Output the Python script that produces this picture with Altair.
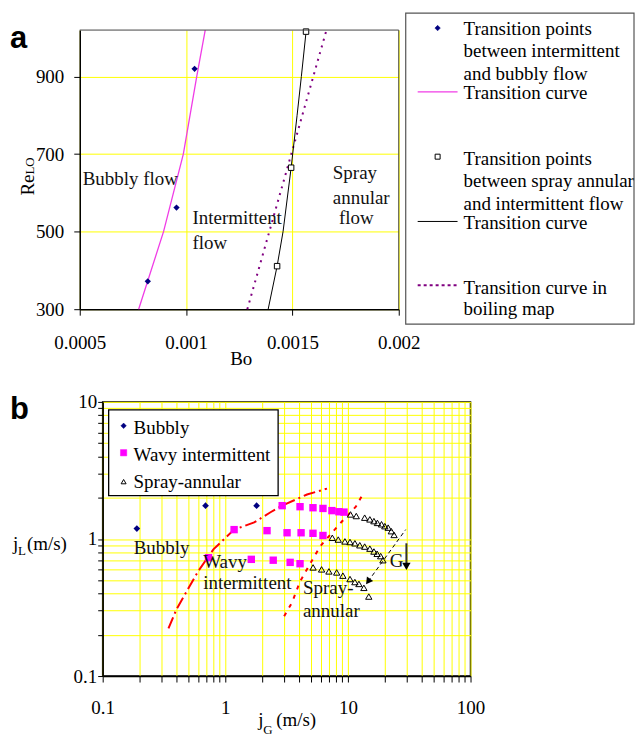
import altair as alt
import pandas as pd

SERIF = "Liberation Serif"
SANS = "Liberation Sans"
GRID = "#FFFF00"

# ---------------- Panel a data ----------------
a_bub_pts_bo = [0.00082, 0.000955, 0.00104]
a_bub_pts_re = [372, 562, 920]
a_bub_curve_bo = [0.000777, 0.000894, 0.000987, 0.00105, 0.00109]
a_bub_curve_re = [300, 500, 700, 900, 1020]
a_spr_pts_bo = [0.001428, 0.001494, 0.001564]
a_spr_pts_re = [411, 665, 1016]
a_spr_curve_bo = [0.001386, 0.001428, 0.001456, 0.001494, 0.001522, 0.001542, 0.001565]
a_spr_curve_re = [300, 411, 500, 665, 800, 900, 1020]
a_boil_curve_bo = [0.001288, 0.001658]
a_boil_curve_re = [300, 1016]
a_labels = ["Bubbly flow", "Intermittent", "flow", "Spray", "annular", "flow"]
a_labels_bo = [0.000514, 0.00103, 0.00103, 0.00169, 0.00169, 0.001719]
a_labels_re = [635, 534, 470, 650, 586, 534]
a_xticks = [0.0005, 0.001, 0.0015, 0.002]
a_yticks = [300, 500, 700, 900]
a_legend = [
    ["Transition points", "between intermittent", "and bubbly flow"],
    ["Transition curve"],
    ["Transition points", "between spray annular", "and intermittent flow"],
    ["Transition curve"],
    ["Transition curve in", "boiling map"],
]

# ---------------- Panel b data ----------------
b_bub_jg = [0.19, 0.69, 1.8]
b_bub_jl = [1.19, 1.75, 1.75]
b_wavy_jg = [2.91, 4.07, 5.19, 6.26, 7.41, 8.45, 9.3,
             1.18, 2.19, 3.19, 4.15, 5.19, 6.26,
             0.73, 1.63, 2.46, 3.38, 4.07]
b_wavy_jl = [1.75, 1.72, 1.69, 1.67, 1.61, 1.58, 1.57,
             1.17, 1.15, 1.11, 1.11, 1.10, 1.06,
             0.73, 0.71, 0.70, 0.675, 0.66]
b_spray_jg = [10.5, 11.7, 13.7, 15.1, 16.3, 17.4, 18.8, 20.0, 21.3, 22.6, 23.8,
              7.46, 8.34, 9.45, 10.4, 11.4, 12.5, 13.7, 15.1, 16.3, 17.3, 18.5, 19.3,
              5.2, 6.1, 7.0, 8.1, 9.1, 10.4, 11.4, 12.3, 13.5, 14.8]
b_spray_jl = [1.51, 1.47, 1.43, 1.39, 1.35, 1.31, 1.28, 1.24, 1.21, 1.14, 1.07,
              1.02, 0.99, 0.96, 0.95, 0.93, 0.90, 0.88, 0.85, 0.81, 0.78, 0.75, 0.70,
              0.62, 0.60, 0.58, 0.57, 0.54, 0.51, 0.485, 0.47, 0.44, 0.38]
b_curve1_jg = [0.344, 0.40, 0.60, 0.80, 1.18, 1.72, 2.32, 2.91, 4.64, 6.75]
b_curve1_jl = [0.223, 0.307, 0.58, 0.84, 1.17, 1.32, 1.56, 1.75, 2.11, 2.33]
b_curve2_jg = [3.02, 3.51, 4.07, 5.92, 7.41, 8.93, 11.6, 13.2]
b_curve2_jl = [0.273, 0.345, 0.49, 0.88, 1.11, 1.34, 1.72, 2.11]
b_garrow_jg = [29.6, 14.6]
b_garrow_jl = [1.17, 0.49]
b_darrow_jg = [30]
b_darrow_jl_top = [0.93]
b_darrow_jl_end = [0.66]
b_darrow_head_jl = [0.63]
b_labels = ["Bubbly", "Wavy", "intermittent", "Spray-", "annular", "G"]
b_labels_jg = [0.179, 0.66, 0.66, 4.3, 4.3, 21.9]
b_labels_jl = [0.86, 0.675, 0.474, 0.436, 0.297, 0.686]
b_xticks = [0.1, 0.2, 0.3, 0.4, 0.5, 0.6, 0.7, 0.8, 0.9,
            1, 2, 3, 4, 5, 6, 7, 8, 9,
            10, 20, 30, 40, 50, 60, 70, 80, 90, 100]
b_yticks = [0.1, 0.2, 0.3, 0.4, 0.5, 0.6, 0.7, 0.8, 0.9,
            1, 2, 3, 4, 5, 6, 7, 8, 9, 10]
b_major_x = [0.1, 1, 10, 100]
b_major_y = [0.1, 1, 10]
b_legend = ["Bubbly", "Wavy intermittent", "Spray-annular"]

one = pd.DataFrame({"k": [0]})


def txt(s, x, y, size=19, align="left", baseline="alphabetic", font=SERIF,
        weight="normal", angle=0):
    return alt.Chart(one).mark_text(
        text=s, align=align, baseline=baseline, font=font, fontSize=size,
        fontWeight=weight, angle=angle, color="black").encode(
        x=alt.value(x), y=alt.value(y))


def lines(block, x, y, lh):
    return [txt(s, x, y + i * lh) for i, s in enumerate(block)]


def sym(shape, x, y, size, fill, stroke, sw=1.0):
    return alt.Chart(one).mark_point(
        shape=shape, filled=True, fill=fill, stroke=stroke, strokeWidth=sw,
        size=size, opacity=1).encode(x=alt.value(x), y=alt.value(y))


def seg(x1, x2, y, color, sw, dash=None):
    kw = dict(color=color, strokeWidth=sw)
    if dash:
        kw["strokeDash"] = dash
    return alt.Chart(one).mark_rule(**kw).encode(
        x=alt.value(x1), x2=alt.value(x2), y=alt.value(y))


def vseg(x, y1, y2, color, sw):
    return alt.Chart(one).mark_rule(color=color, strokeWidth=sw).encode(
        x=alt.value(x), y=alt.value(y1), y2=alt.value(y2))


# ---------------- Panel a ----------------
# Both panels share the same left origin in the column layout, so panel a's
# plot is drawn 23 px left of its view origin (range starts at -23).
D = -23
WA, HA = 320, 280
xa = alt.Scale(domain=[0.0005, 0.002], nice=False, zero=False, range=[D, D + WA])
ya = alt.Scale(domain=[300, 1020], nice=False, zero=False)
ax_ax = alt.Axis(values=a_xticks, format="~g", title=None, grid=True,
                 tickSize=6, labelPadding=18, labelFlush=False, labelOverlap=False)
ax_ay = alt.Axis(values=a_yticks, title=None, grid=True, tickSize=6, offset=-D,
                 labelPadding=10, labelFlush=False, labelOverlap=False)


def enc_a(ch, **extra):
    return ch.encode(x=alt.X("bo:Q", scale=xa, axis=ax_ax),
                     y=alt.Y("re:Q", scale=ya, axis=ax_ay), **extra)


a_layers = [
    enc_a(alt.Chart(pd.DataFrame({"bo": a_bub_curve_bo, "re": a_bub_curve_re}))
          .mark_line(color="#F03CE6", strokeWidth=1.3)),
    enc_a(alt.Chart(pd.DataFrame({"bo": a_boil_curve_bo, "re": a_boil_curve_re}))
          .mark_line(color="#800080", strokeWidth=2, strokeDash=[2, 5])),
    enc_a(alt.Chart(pd.DataFrame({"bo": a_spr_curve_bo, "re": a_spr_curve_re}))
          .mark_line(color="black", strokeWidth=1)),
    enc_a(alt.Chart(pd.DataFrame({"bo": a_bub_pts_bo, "re": a_bub_pts_re}))
          .mark_point(shape="diamond", filled=True, color="#000080", size=40, opacity=1)),
    enc_a(alt.Chart(pd.DataFrame({"bo": a_spr_pts_bo, "re": a_spr_pts_re}))
          .mark_point(shape="square", filled=True, fill="white", stroke="black",
                      strokeWidth=1, size=30, opacity=1)),
    enc_a(alt.Chart(pd.DataFrame({"bo": a_labels_bo, "re": a_labels_re, "t": a_labels}))
          .mark_text(align="left", baseline="middle", font=SERIF, fontSize=19, color="#111"),
          text="t:N"),
    # frame (top and right edges)
    seg(D, D + WA, 0, "#444", 1),
    vseg(D + WA, 0, HA, "#444", 1),
    # axis titles and panel letter
    txt("Bo", D + 162, 336, align="center"),
    txt("Re", D - 46, 166, angle=270),
    txt("LO", D - 46, 145, size=13, angle=270),
    txt("a", D - 70, 18, size=31, font=SANS, weight="bold"),
    # legend
    alt.Chart(one).mark_rect(fill="white", stroke="#555", strokeWidth=1.2)
    .encode(x=alt.value(D + 327), x2=alt.value(D + 556), y=alt.value(-17), y2=alt.value(295)),
    sym("diamond", D + 359, -2, 30, "#000080", "#000080", 0.5),
    *lines(a_legend[0], D + 385, 5, 22.5),
    seg(D + 339, D + 379, 62, "#F03CE6", 1.5),
    *lines(a_legend[1], D + 385, 69, 22.5),
    sym("square", D + 359, 127, 25, "white", "black", 1),
    *lines(a_legend[2], D + 385, 135, 22.5),
    seg(D + 339, D + 379, 192, "black", 1),
    *lines(a_legend[3], D + 385, 200, 22.5),
    seg(D + 339, D + 379, 256, "#800080", 2, [3, 3]),
    *lines(a_legend[4], D + 385, 265, 21),
]
panel_a = alt.layer(*a_layers).properties(
    width=WA + D, height=HA, view=alt.ViewBackground(stroke="transparent"))

# ---------------- Panel b ----------------
xb = alt.Scale(type="log", domain=[0.1, 100], nice=False)
yb = alt.Scale(type="log", domain=[0.1, 10], nice=False)
ax_bx = alt.Axis(values=b_xticks, format="~g", title=None, grid=True, tickSize=6,
                 labelPadding=17, labelFlush=False, labelOverlap=False,
                 labelExpr="indexof(%s, datum.value) >= 0 ? datum.label : ''" % b_major_x)
ax_by = alt.Axis(values=b_yticks, format="~g", title=None, grid=True, tickSize=5,
                 labelPadding=1, labelFlush=False, labelOverlap=False,
                 labelExpr="indexof(%s, datum.value) >= 0 ? datum.label : ''" % b_major_y)


def enc_b(ch, **extra):
    return ch.encode(x=alt.X("jg:Q", scale=xb, axis=ax_bx),
                     y=alt.Y("jl:Q", scale=yb, axis=ax_by), **extra)


b_layers = [
    enc_b(alt.Chart(pd.DataFrame({"jg": b_curve1_jg, "jl": b_curve1_jl}))
          .mark_line(color="#FF0000", strokeWidth=2, strokeDash=[12, 4, 2, 4])),
    enc_b(alt.Chart(pd.DataFrame({"jg": b_curve2_jg, "jl": b_curve2_jl}))
          .mark_line(color="#FF0000", strokeWidth=2, strokeDash=[4, 6])),
    enc_b(alt.Chart(pd.DataFrame({"jg": b_garrow_jg, "jl": b_garrow_jl}))
          .mark_line(color="black", strokeWidth=1, strokeDash=[4, 3])),
    enc_b(alt.Chart(pd.DataFrame({"jg": b_garrow_jg[1:], "jl": b_garrow_jl[1:]}))
          .mark_point(shape="triangle-up", angle=216, filled=True, color="black",
                      size=60, opacity=1)),
    enc_b(alt.Chart(pd.DataFrame({"jg": b_darrow_jg, "jl": b_darrow_jl_top, "jl2": b_darrow_jl_end}))
          .mark_rule(color="#333", strokeWidth=2), y2="jl2:Q"),
    enc_b(alt.Chart(pd.DataFrame({"jg": b_darrow_jg, "jl": b_darrow_head_jl}))
          .mark_point(shape="triangle-down", filled=True, color="black", size=70, opacity=1)),
    enc_b(alt.Chart(pd.DataFrame({"jg": b_bub_jg, "jl": b_bub_jl}))
          .mark_point(shape="diamond", filled=True, color="#000080", size=45, opacity=1)),
    enc_b(alt.Chart(pd.DataFrame({"jg": b_wavy_jg, "jl": b_wavy_jl}))
          .mark_point(shape="square", filled=True, color="#FF00FF", size=55, opacity=1)),
    enc_b(alt.Chart(pd.DataFrame({"jg": b_spray_jg, "jl": b_spray_jl}))
          .mark_point(shape="triangle-up", filled=False, color="black", size=40,
                      strokeWidth=1, opacity=1)),
    enc_b(alt.Chart(pd.DataFrame({"jg": b_labels_jg, "jl": b_labels_jl, "t": b_labels}))
          .mark_text(align="left", baseline="middle", font=SERIF, fontSize=19, color="#111"),
          text="t:N"),
    # axis titles and panel letter
    txt("j", -90, 149),
    txt("L", -85, 154, size=13),
    txt("(m/s)", -76, 149),
    txt("j", 156, 325),
    txt("G", 161, 333, size=13),
    txt("(m/s)", 174, 325),
    txt("b", -93, 17, size=31, font=SANS, weight="bold"),
    # legend
    alt.Chart(one).mark_rect(fill="white", stroke="black", strokeWidth=1.3)
    .encode(x=alt.value(6), x2=alt.value(176), y=alt.value(8), y2=alt.value(94)),
    sym("diamond", 21, 24, 30, "#000080", "#000080", 0.5),
    txt(b_legend[0], 31, 32),
    sym("square", 21, 51, 40, "#FF00FF", "#FF00FF", 0.5),
    txt(b_legend[1], 31, 59),
    sym("triangle-up", 21, 80, 25, "white", "black", 1),
    txt(b_legend[2], 31, 86),
]
panel_b = alt.layer(*b_layers).properties(
    width=369, height=275, view=alt.ViewBackground(stroke="black", strokeWidth=1.5))

chart = alt.vconcat(panel_a, panel_b, spacing=22).properties(
    padding={"left": 9, "top": 10, "right": 0, "bottom": 0}
).configure_axis(
    domainColor="black", domainWidth=1.5, tickColor="black", tickWidth=1,
    labelFont=SERIF, labelFontSize=19, labelColor="black",
    gridColor=GRID, gridWidth=1, gridOpacity=1
).configure_view(stroke="black")

chart.save("out.html", embed_options={"renderer": "svg", "actions": False})
